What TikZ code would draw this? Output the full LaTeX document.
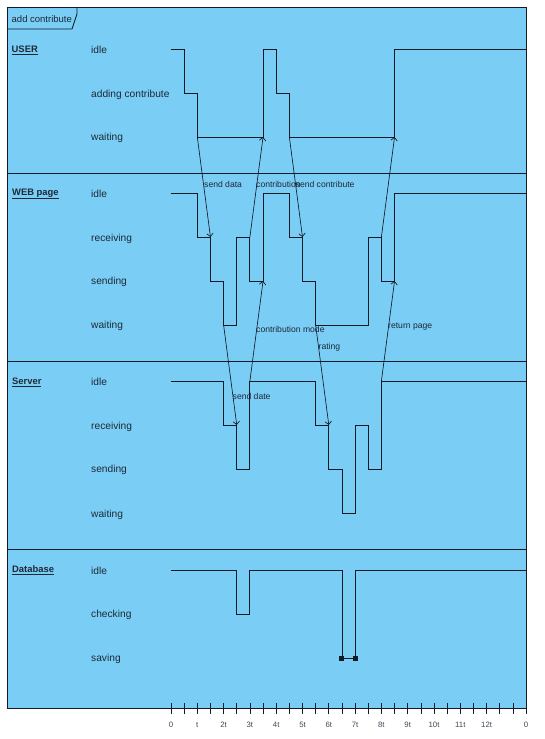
\documentclass[tikz,border=0pt]{standalone}
\usepackage{fontspec}
\setmainfont{Liberation Sans}
\usetikzlibrary{arrows.meta}
\definecolor{bgblue}{RGB}{122,206,245}
\definecolor{ink}{RGB}{18,26,38}
\definecolor{txt}{RGB}{30,40,55}
\begin{document}
\begin{tikzpicture}[x=1pt,y=-1pt,
  frameline/.style={draw=ink, line width=0.9pt},
  wave/.style={draw=ink, line width=0.85pt, line join=miter},
  msg/.style={draw=ink, line width=0.65pt, -{Straight Barb[length=3.2pt,width=6.5pt]}},
  statelbl/.style={anchor=west, inner sep=0pt, font=\fontsize{10.2}{12}\selectfont, text=txt},
  lifename/.style={anchor=west, inner sep=0pt, font=\fontsize{9.4}{11}\selectfont\bfseries, text=txt},
  msglbl/.style={anchor=west, inner sep=0pt, font=\fontsize{8.6}{10}\selectfont, text=txt},
  ticklbl/.style={inner sep=0pt, font=\fontsize{7.8}{9}\selectfont, text=txt!85},
  marker/.style={fill=ink, draw=none, minimum size=5pt, inner sep=0pt},
]
\useasboundingbox (0,0) rectangle (545,739);
% frame
\fill[bgblue] (7,7) rectangle (526,708);
\draw[frameline] (7,7) rectangle (526,708);
\draw[frameline] (7,29) -- (72,29) -- (77,14) -- (77,7);
\node[anchor=west, inner sep=0pt, font=\fontsize{9.5}{11}\selectfont, text=txt] (title) at (11.5,19) {add contribute};
% separators
\draw[frameline] (7,173) -- (526,173);
\draw[frameline] (7,361.5) -- (526,361.5);
\draw[frameline] (7,549.5) -- (526,549.5);
% lifeline names
\node[lifename] (nuser) at (11.5,50) {\underline{USER}};
\node[lifename] (nweb) at (12,194) {\underline{WEB page}};
\node[lifename] (nserver) at (12,382) {\underline{Server}};
\node[lifename] (ndb) at (12,570.5) {\underline{Database}};
% state labels
\node[statelbl] (uidle) at (91,50) {idle};
\node[statelbl] (uadd) at (91,94.5) {adding contribute};
\node[statelbl] (uwait) at (91,137.5) {waiting};
\node[statelbl] (widle) at (91,194) {idle};
\node[statelbl] (wrecv) at (91,238.5) {receiving};
\node[statelbl] (wsend) at (91,282) {sending};
\node[statelbl] (wwait) at (91,325.5) {waiting};
\node[statelbl] (sidle) at (91,382) {idle};
\node[statelbl] (srecv) at (91,426.5) {receiving};
\node[statelbl] (ssend) at (91,470) {sending};
\node[statelbl] (swait) at (91,514.5) {waiting};
\node[statelbl] (didle) at (91,570.5) {idle};
\node[statelbl] (dcheck) at (91,614.5) {checking};
\node[statelbl] (dsave) at (91,658.5) {saving};
\begin{scope}[shift={(171pt,0pt)}, x=13.15pt]
  % USER
  \draw[wave] (0,49) -- (1,49) -- (1,93) -- (2,93) -- (2,137) -- (7,137) -- (7,49) -- (8,49) -- (8,93) -- (9,93) -- (9,137) -- (17,137) -- (17,49) -- (27,49);
  % WEB page
  \draw[wave] (0,193) -- (2,193) -- (2,237) -- (3,237) -- (3,281) -- (4,281) -- (4,325) -- (5,325) -- (5,237) -- (6,237) -- (6,281) -- (7,281) -- (7,193) -- (9,193) -- (9,237) -- (10,237) -- (10,281) -- (11,281) -- (11,325) -- (15,325) -- (15,237) -- (16,237) -- (16,281) -- (17,281) -- (17,193) -- (27,193);
  % Server
  \draw[wave] (0,381) -- (4,381) -- (4,425) -- (5,425) -- (5,469) -- (6,469) -- (6,381) -- (11,381) -- (11,425) -- (12,425) -- (12,469) -- (13,469) -- (13,513) -- (14,513) -- (14,425) -- (15,425) -- (15,469) -- (16,469) -- (16,381) -- (27,381);
  % Database
  \draw[wave] (0,570) -- (5,570) -- (5,614) -- (6,614) -- (6,570) -- (13,570) -- (13,658) -- (14,658) -- (14,570) -- (27,570);
  \node[marker] (sq1) at (13,658) {};
  \node[marker] (sq2) at (14,658) {};
  % message end points
  \coordinate (m1s) at (2,137);  \coordinate (m1e) at (3,237);
  \coordinate (m2s) at (6,237);  \coordinate (m2e) at (7,137);
  \coordinate (m3s) at (9,137);  \coordinate (m3e) at (10,237);
  \coordinate (m4s) at (16,237); \coordinate (m4e) at (17,137);
  \coordinate (m5s) at (4,325);  \coordinate (m5e) at (5,425);
  \coordinate (m6s) at (6,381);  \coordinate (m6e) at (7,281);
  \coordinate (m7s) at (11,325); \coordinate (m7e) at (12,425);
  \coordinate (m8s) at (16,381); \coordinate (m8e) at (17,281);
  % ticks
  \foreach \n in {0,...,27} \draw[draw=ink, line width=0.7pt] (\n,703) -- (\n,714);
  \foreach \n/\l in {0/0,2/t,4/2t,6/3t,8/4t,10/5t,12/6t,14/7t,16/8t,18/9t,20/10t,22/11t,24/12t,27/0}
    \node[ticklbl] at (\n,724.5) {\l};
\end{scope}
% messages
\draw[msg] (m1s) -- (m1e);
\draw[msg] (m2s) -- (m2e);
\draw[msg] (m3s) -- (m3e);
\draw[msg] (m4s) -- (m4e);
\draw[msg] (m5s) -- (m5e);
\draw[msg] (m6s) -- (m6e);
\draw[msg] (m7s) -- (m7e);
\draw[msg] (m8s) -- (m8e);
% message labels
\node[msglbl] (l1) at (204,184) {send data};
\node[msglbl] (l2) at (256,184.5) {contribution};
\node[msglbl] (l3) at (295.5,184) {send contribute};
\node[msglbl] (l5) at (232.5,396) {send date};
\node[msglbl] (l6) at (256,329.5) {contribution mode};
\node[msglbl] (l7) at (318.5,347) {rating};
\node[msglbl] (l8) at (388,326.5) {return page};
\end{tikzpicture}
\end{document}
